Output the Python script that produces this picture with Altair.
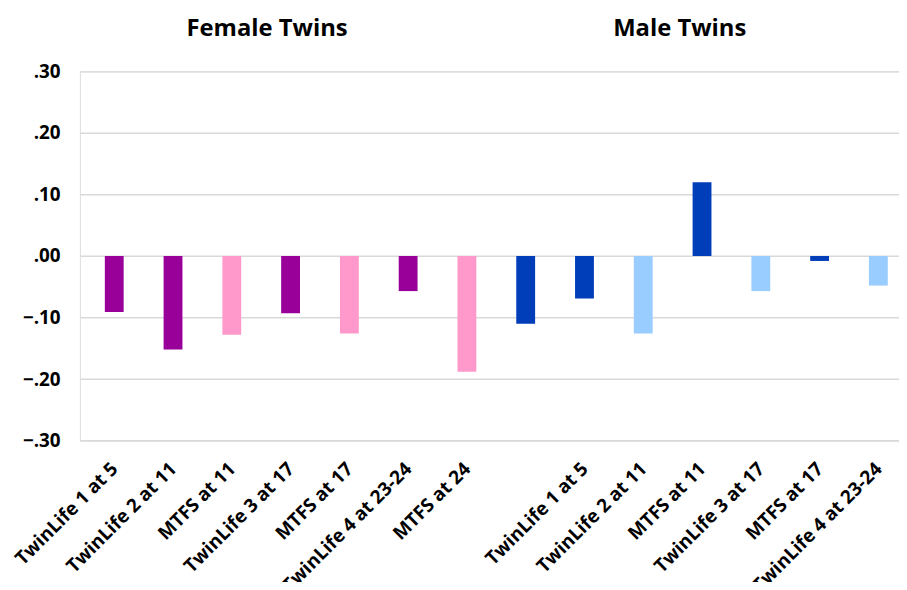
import altair as alt
import pandas as pd

# 14 category slots (slot 7 carries no label in the original)
x_labels = ["TwinLife 1 at 5", "TwinLife 2 at 11", "MTFS at 11", "TwinLife 3 at 17",
            "MTFS at 17", "TwinLife 4 at 23-24", "MTFS at 24",
            "", "TwinLife 1 at 5", "TwinLife 2 at 11", "MTFS at 11", "TwinLife 3 at 17",
            "MTFS at 17", "TwinLife 4 at 23-24"]
values = [-0.091, -0.152, -0.128, -0.093, -0.126, -0.057, -0.188,
          -0.110, -0.069, -0.126, 0.120, -0.057, -0.008, -0.048]
kinds = ["F-TL", "F-TL", "F-MTFS", "F-TL", "F-MTFS", "F-TL", "F-MTFS",
         "M-TL", "M-TL", "M-MTFS", "M-TL", "M-MTFS", "M-TL", "M-MTFS"]
kind_domain = ["F-TL", "F-MTFS", "M-TL", "M-MTFS"]
kind_colors = ["#990099", "#FF99CC", "#003DB8", "#99CCFF"]

group_titles = ["Female Twins", "Male Twins"]
group_title_x = [2.6, 9.62]
group_title_y = [0.369, 0.369]

y_ticks = [-0.3, -0.2, -0.1, 0.0, 0.1, 0.2, 0.3]

df = pd.DataFrame({"idx": list(range(len(values))), "value": values, "kind": kinds})
tdf = pd.DataFrame({"t": group_titles, "x": group_title_x, "y": group_title_y})

label_js = "[" + ",".join("'" + s + "'" for s in x_labels) + "]"

FONT = "Open Sans"

xscale = alt.Scale(domain=[-0.5, 13.2667], nice=False, zero=False)
yscale = alt.Scale(domain=[-0.3, 0.3], nice=False)

bars = alt.Chart(df).mark_bar(size=19).encode(
    x=alt.X("idx:Q", scale=xscale,
            axis=alt.Axis(values=list(range(len(values))), title=None, grid=False,
                          domain=False, ticks=False, labelAngle=-45, labelAlign="right",
                          labelBaseline="middle", labelPadding=25, labelFontSize=19,
                          labelFontWeight="bold", labelFont=FONT, labelColor="#000000",
                          labelOverlap=False, labelBound=False, labelFlush=False,
                          labelLimit=400,
                          labelExpr=label_js + "[datum.value]")),
    y=alt.Y("value:Q", scale=yscale,
            axis=alt.Axis(values=y_ticks, title=None, domain=False, ticks=False,
                          grid=True, gridColor="#D9D9D9", gridWidth=1.5,
                          labelPadding=20, labelFontSize=19, labelFontWeight="bold",
                          labelFont=FONT, labelColor="#000000",
                          labelExpr="replace(format(datum.value, '.2f'), '0.', '.')")),
    color=alt.Color("kind:N", scale=alt.Scale(domain=kind_domain, range=kind_colors),
                    legend=None),
)

titles = alt.Chart(tdf).mark_text(fontSize=24, fontWeight="bold", font=FONT,
                                  color="#000000", baseline="middle").encode(
    x=alt.X("x:Q", scale=xscale),
    y=alt.Y("y:Q", scale=yscale),
    text="t:N",
)

chart = alt.layer(bars, titles).properties(
    width=826, height=372.4,
    autosize=alt.AutoSizeParams(type="none"),
    padding={"left": 72.5, "top": 61.5, "right": 0, "bottom": 140},
).configure_view(stroke=None).configure(background="#FFFFFF")

chart.save("out.html", embed_options={"renderer": "svg", "actions": False})
